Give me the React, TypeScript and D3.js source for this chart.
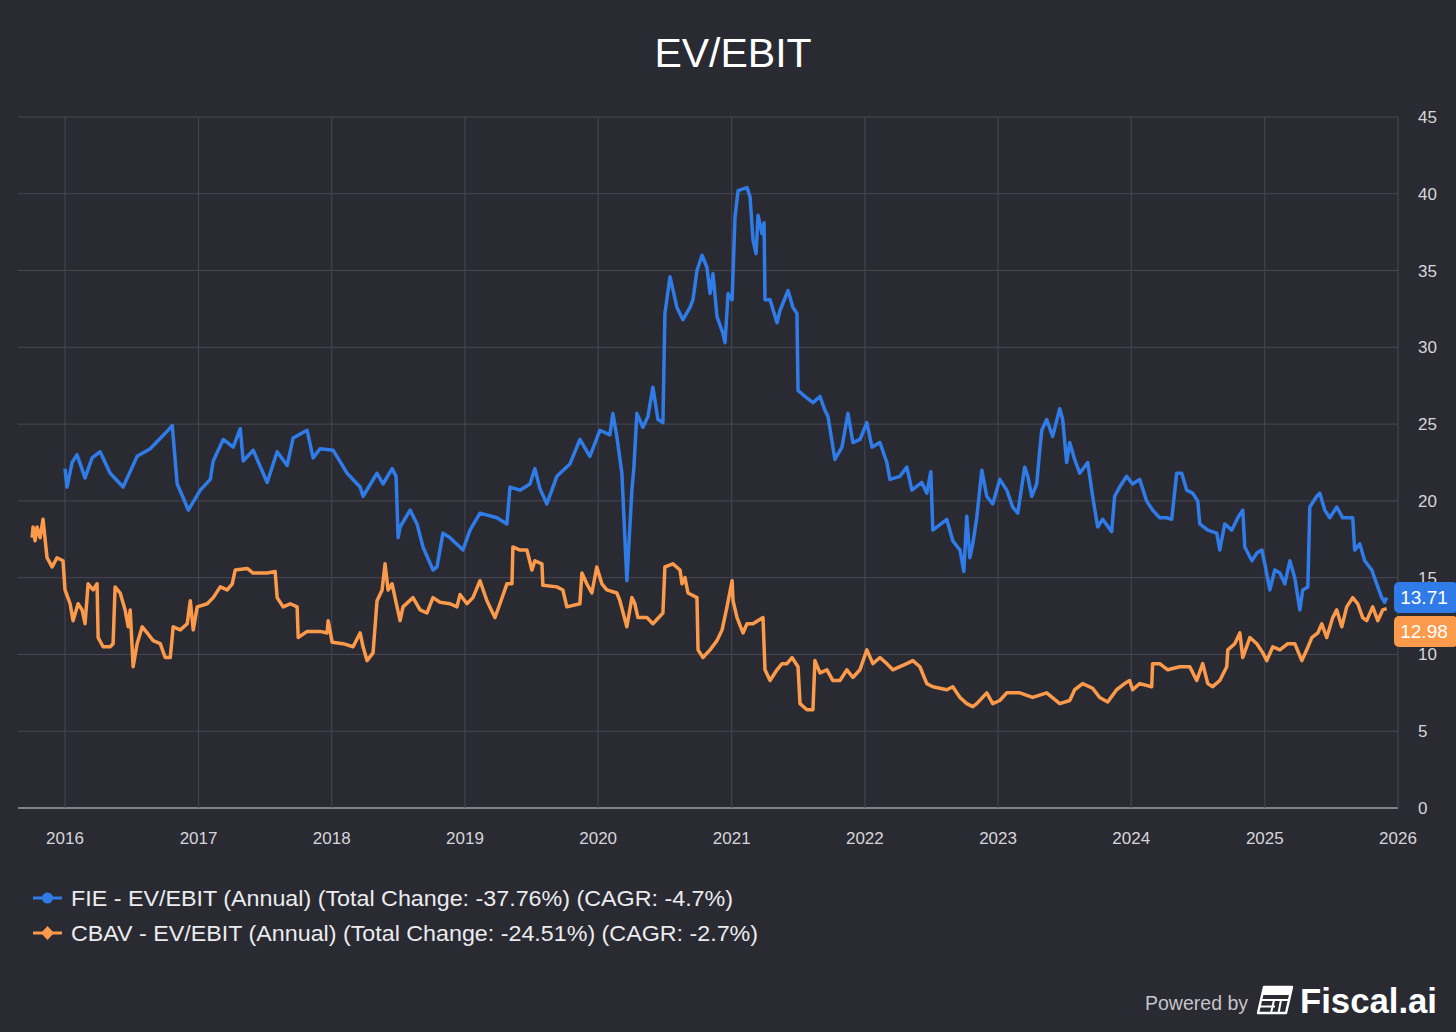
import React from "react";
import * as d3 from "d3";

// ---------- DATA ----------
const fieSeries: [number, number][] = [
  [2016.0, 22.1], [2016.015, 20.9], [2016.053, 22.5], [2016.09, 23.0], [2016.15, 21.5], [2016.203, 22.8],
  [2016.263, 23.2], [2016.338, 21.8], [2016.435, 20.9], [2016.54, 22.9], [2016.638, 23.4], [2016.75, 24.4],
  [2016.803, 24.9], [2016.84, 21.1], [2016.885, 20.2], [2016.923, 19.4], [2017.013, 20.7], [2017.088, 21.4],
  [2017.11, 22.6], [2017.185, 24.0], [2017.26, 23.5], [2017.313, 24.7], [2017.335, 22.6], [2017.41, 23.3],
  [2017.515, 21.2], [2017.59, 23.2], [2017.665, 22.3], [2017.71, 24.1], [2017.815, 24.6], [2017.86, 22.8],
  [2017.913, 23.4], [2018.01, 23.3], [2018.115, 21.8], [2018.213, 20.9], [2018.235, 20.3], [2018.34, 21.8],
  [2018.385, 21.1], [2018.453, 22.1], [2018.483, 21.6], [2018.498, 17.6], [2018.513, 18.3], [2018.588, 19.4],
  [2018.64, 18.5], [2018.685, 17.0], [2018.76, 15.5], [2018.79, 15.7], [2018.835, 17.9], [2018.888, 17.6],
  [2018.985, 16.8], [2019.038, 18.1], [2019.113, 19.2], [2019.24, 18.9], [2019.315, 18.5], [2019.338, 20.9],
  [2019.413, 20.7], [2019.488, 21.1], [2019.525, 22.1], [2019.563, 20.8], [2019.615, 19.8], [2019.69, 21.6],
  [2019.788, 22.4], [2019.863, 24.0], [2019.938, 22.9], [2020.013, 24.6], [2020.088, 24.3], [2020.11, 25.7],
  [2020.14, 24.2], [2020.178, 21.8], [2020.215, 14.8], [2020.253, 20.7], [2020.268, 22.2], [2020.29, 25.7],
  [2020.335, 24.8], [2020.373, 25.5], [2020.41, 27.4], [2020.448, 25.3], [2020.485, 25.1], [2020.5, 32.2],
  [2020.538, 34.6], [2020.59, 32.6], [2020.635, 31.8], [2020.688, 32.6], [2020.71, 33.1], [2020.74, 35.0],
  [2020.778, 36.0], [2020.815, 35.2], [2020.838, 33.5], [2020.86, 34.8], [2020.89, 32.0], [2020.935, 30.9],
  [2020.95, 30.3], [2020.973, 33.5], [2021.003, 33.1], [2021.025, 38.5], [2021.048, 40.2], [2021.115, 40.4],
  [2021.138, 39.8], [2021.16, 37.0], [2021.183, 36.1], [2021.198, 38.6], [2021.228, 37.4], [2021.243, 38.1],
  [2021.25, 33.1], [2021.288, 33.1], [2021.34, 31.6], [2021.363, 32.4], [2021.423, 33.7], [2021.46, 32.6],
  [2021.49, 32.2], [2021.498, 27.2], [2021.55, 26.8], [2021.61, 26.4], [2021.663, 26.8], [2021.7, 25.9],
  [2021.723, 25.5], [2021.775, 22.7], [2021.828, 23.5], [2021.873, 25.7], [2021.91, 23.8], [2021.963, 24.0],
  [2022.015, 25.1], [2022.053, 23.5], [2022.113, 23.8], [2022.165, 22.5], [2022.188, 21.4], [2022.263, 21.6],
  [2022.315, 22.2], [2022.353, 20.7], [2022.428, 21.2], [2022.465, 20.5], [2022.495, 21.9], [2022.51, 18.1],
  [2022.615, 18.8], [2022.66, 17.4], [2022.714, 16.8], [2022.743, 15.4], [2022.765, 19.0], [2022.788, 16.3],
  [2022.81, 17.2], [2022.84, 18.9], [2022.878, 22.0], [2022.915, 20.3], [2022.96, 19.8], [2023.013, 21.4],
  [2023.065, 20.7], [2023.11, 19.6], [2023.148, 19.2], [2023.2, 22.2], [2023.223, 21.6], [2023.253, 20.3],
  [2023.29, 21.1], [2023.313, 23.3], [2023.328, 24.6], [2023.365, 25.3], [2023.41, 24.2], [2023.463, 26.0],
  [2023.485, 25.3], [2023.515, 22.5], [2023.538, 23.8], [2023.575, 22.7], [2023.613, 21.8], [2023.673, 22.5],
  [2023.71, 20.3], [2023.748, 18.3], [2023.785, 18.8], [2023.853, 18.0], [2023.875, 20.3], [2023.913, 20.9],
  [2023.965, 21.6], [2024.01, 21.1], [2024.063, 21.4], [2024.115, 20.0], [2024.16, 19.4], [2024.213, 18.9],
  [2024.265, 18.9], [2024.303, 18.8], [2024.34, 21.8], [2024.378, 21.8], [2024.415, 20.7], [2024.46, 20.5],
  [2024.498, 20.0], [2024.513, 18.5], [2024.573, 18.1], [2024.64, 17.9], [2024.663, 16.8], [2024.7, 18.5],
  [2024.753, 18.1], [2024.798, 18.9], [2024.835, 19.4], [2024.85, 17.0], [2024.903, 16.1], [2024.94, 16.6],
  [2024.978, 16.8], [2025.0, 15.9], [2025.038, 14.2], [2025.075, 15.5], [2025.113, 15.3], [2025.15, 14.6],
  [2025.188, 16.1], [2025.225, 15.0], [2025.263, 12.9], [2025.285, 14.2], [2025.323, 14.4], [2025.338, 19.6],
  [2025.39, 20.3], [2025.413, 20.5], [2025.45, 19.4], [2025.488, 18.9], [2025.54, 19.6], [2025.585, 18.9],
  [2025.638, 18.9], [2025.66, 18.9], [2025.675, 16.8], [2025.713, 17.2], [2025.75, 16.1], [2025.803, 15.5],
  [2025.84, 14.6], [2025.878, 13.7], [2025.9, 13.4], [2025.915, 13.71],
];

const cbavSeries: [number, number][] = [
  [2015.753, 17.6], [2015.76, 18.3], [2015.775, 17.4], [2015.79, 18.3], [2015.813, 17.6], [2015.835, 18.8],
  [2015.865, 16.3], [2015.903, 15.7], [2015.94, 16.3], [2015.985, 16.1], [2016.0, 14.2], [2016.038, 13.3],
  [2016.06, 12.2], [2016.098, 13.3], [2016.128, 12.9], [2016.15, 12.0], [2016.173, 14.6], [2016.21, 14.2],
  [2016.24, 14.6], [2016.248, 11.1], [2016.285, 10.5], [2016.338, 10.5], [2016.36, 10.7], [2016.375, 14.4],
  [2016.413, 14.0], [2016.45, 12.9], [2016.473, 11.8], [2016.488, 12.9], [2016.51, 9.2], [2016.54, 10.7],
  [2016.578, 11.8], [2016.615, 11.4], [2016.66, 10.9], [2016.713, 10.7], [2016.75, 9.8], [2016.788, 9.8],
  [2016.81, 11.8], [2016.863, 11.6], [2016.915, 12.0], [2016.938, 13.5], [2016.96, 11.6], [2016.99, 13.1],
  [2017.065, 13.3], [2017.11, 13.7], [2017.163, 14.4], [2017.215, 14.2], [2017.253, 14.6], [2017.275, 15.5],
  [2017.365, 15.6], [2017.41, 15.3], [2017.515, 15.3], [2017.575, 15.4], [2017.59, 13.7], [2017.635, 13.1],
  [2017.688, 13.3], [2017.74, 13.1], [2017.748, 11.1], [2017.815, 11.5], [2017.913, 11.5], [2017.965, 11.4],
  [2017.973, 12.2], [2018.003, 10.8], [2018.085, 10.7], [2018.16, 10.5], [2018.213, 11.4], [2018.235, 10.5],
  [2018.265, 9.6], [2018.31, 10.1], [2018.34, 13.5], [2018.378, 14.2], [2018.4, 15.9], [2018.423, 14.2],
  [2018.453, 14.6], [2018.49, 13.1], [2018.513, 12.2], [2018.535, 13.1], [2018.61, 13.7], [2018.663, 12.9],
  [2018.715, 12.7], [2018.76, 13.7], [2018.813, 13.4], [2018.888, 13.3], [2018.94, 13.1], [2018.963, 13.9],
  [2019.015, 13.3], [2019.06, 13.7], [2019.113, 14.8], [2019.165, 13.5], [2019.225, 12.4], [2019.263, 13.3],
  [2019.315, 14.6], [2019.353, 14.6], [2019.36, 17.0], [2019.413, 16.8], [2019.465, 16.8], [2019.503, 15.5],
  [2019.525, 16.1], [2019.578, 15.9], [2019.585, 14.5], [2019.69, 14.4], [2019.735, 14.2], [2019.765, 13.1],
  [2019.863, 13.3], [2019.878, 15.3], [2019.915, 14.6], [2019.953, 14.0], [2019.99, 15.7], [2020.028, 14.6],
  [2020.065, 14.2], [2020.14, 14.0], [2020.163, 13.5], [2020.215, 11.8], [2020.253, 13.7], [2020.275, 13.3],
  [2020.298, 12.4], [2020.365, 12.4], [2020.41, 12.0], [2020.485, 12.7], [2020.5, 15.7], [2020.56, 15.9],
  [2020.613, 15.5], [2020.628, 14.6], [2020.65, 15.0], [2020.673, 14.0], [2020.74, 13.7], [2020.748, 10.3],
  [2020.785, 9.8], [2020.838, 10.3], [2020.89, 10.9], [2020.928, 11.6], [2020.965, 13.1], [2021.003, 14.8],
  [2021.01, 13.5], [2021.04, 12.4], [2021.085, 11.4], [2021.115, 12.0], [2021.16, 12.0], [2021.235, 12.4],
  [2021.25, 9.0], [2021.288, 8.3], [2021.34, 9.0], [2021.378, 9.4], [2021.415, 9.4], [2021.453, 9.8],
  [2021.498, 9.2], [2021.513, 6.8], [2021.565, 6.4], [2021.61, 6.4], [2021.625, 9.6], [2021.663, 8.8],
  [2021.715, 9.0], [2021.76, 8.3], [2021.813, 8.3], [2021.865, 9.0], [2021.91, 8.5], [2021.963, 9.0],
  [2022.015, 10.3], [2022.06, 9.4], [2022.113, 9.8], [2022.165, 9.4], [2022.21, 9.0], [2022.263, 9.2],
  [2022.315, 9.4], [2022.36, 9.6], [2022.413, 9.2], [2022.465, 8.1], [2022.51, 7.9], [2022.615, 7.7],
  [2022.66, 7.9], [2022.714, 7.2], [2022.765, 6.8], [2022.81, 6.6], [2022.84, 6.8], [2022.915, 7.5],
  [2022.96, 6.8], [2023.013, 7.0], [2023.065, 7.5], [2023.163, 7.5], [2023.26, 7.2], [2023.365, 7.5],
  [2023.463, 6.8], [2023.538, 7.0], [2023.575, 7.7], [2023.635, 8.1], [2023.71, 7.8], [2023.763, 7.2],
  [2023.823, 6.9], [2023.89, 7.7], [2023.95, 8.1], [2023.988, 8.3], [2024.01, 7.7], [2024.063, 8.1],
  [2024.153, 7.9], [2024.16, 9.4], [2024.213, 9.4], [2024.273, 9.0], [2024.363, 9.2], [2024.438, 9.2],
  [2024.49, 8.3], [2024.535, 9.4], [2024.573, 8.1], [2024.61, 7.9], [2024.663, 8.3], [2024.715, 9.2],
  [2024.723, 10.3], [2024.775, 10.7], [2024.813, 11.4], [2024.835, 9.8], [2024.888, 11.1], [2024.94, 10.7],
  [2024.985, 10.1], [2025.015, 9.6], [2025.06, 10.5], [2025.113, 10.3], [2025.173, 10.7], [2025.225, 10.7],
  [2025.278, 9.6], [2025.315, 10.3], [2025.353, 11.1], [2025.398, 11.4], [2025.428, 12.0], [2025.465, 11.1],
  [2025.51, 12.4], [2025.54, 12.9], [2025.578, 11.8], [2025.615, 13.1], [2025.66, 13.7], [2025.698, 13.3],
  [2025.735, 12.4], [2025.765, 12.2], [2025.81, 13.1], [2025.848, 12.2], [2025.885, 12.9], [2025.915, 12.98],
];

const yTicks = [0, 5, 10, 15, 20, 25, 30, 35, 40, 45];
const xTickYears = [2016, 2017, 2018, 2019, 2020, 2021, 2022, 2023, 2024, 2025, 2026];
const seriesLabels = [
  "FIE - EV/EBIT (Annual) (Total Change: -37.76%) (CAGR: -4.7%)",
  "CBAV - EV/EBIT (Annual) (Total Change: -24.51%) (CAGR: -2.7%)",
];
const legendWidths = [662, 687];
const lastValueLabels = ["13.71", "12.98"];
const titleText = "EV/EBIT";

// ---------- STYLE ----------
const BG = "#2a2a33";
const BLUE = "#2f7be8";
const ORANGE = "#fb9a4b";
const GRID = "#474852";
const FONT = "'Liberation Sans', Arial, Helvetica, sans-serif";

function toDate(y: number): Date {
  const yr = Math.floor(y);
  const s = new Date(yr, 0, 1).getTime();
  const e = new Date(yr + 1, 0, 1).getTime();
  return new Date(s + (y - yr) * (e - s));
}

export default function App() {
  const W = 1456;
  const H = 1032;
  const left = 18;
  const right = 1398;
  const top = 117;
  const bottom = 808;

  const x = d3.scaleTime().domain([toDate(2015.647), toDate(2026)]).range([left, right]);
  const y = d3.scaleLinear().domain([0, 45]).range([bottom, top]);

  const line = d3
    .line<[number, number]>()
    .x((d) => x(toDate(d[0])))
    .y((d) => y(d[1]))
    .curve(d3.curveLinear);

  const blueY = y(+lastValueLabels[0]);
  const badgeH = 31;
  const blueTop = blueY - badgeH / 2;
  const orangeTop = blueTop + badgeH + 3;

  const colors = [BLUE, ORANGE];

  return (
    <svg
      width={W}
      height={H}
      style={{ position: "absolute", left: 0, top: 0, background: BG, fontFamily: FONT }}
    >
      <rect x={0} y={0} width={W} height={H} fill={BG} />
      <text x={733} y={67} textAnchor="middle" fill="#ffffff" fontSize={41}>
        {titleText}
      </text>

      {/* horizontal grid */}
      {yTicks.map((t) => (
        <line
          key={"h" + t}
          x1={left}
          x2={right}
          y1={y(t)}
          y2={y(t)}
          stroke={t === 0 ? "#a0a0a6" : GRID}
          strokeWidth={t === 0 ? 1.5 : 1}
        />
      ))}
      {/* vertical grid */}
      {xTickYears.map((yr) => (
        <line
          key={"v" + yr}
          x1={x(toDate(yr))}
          x2={x(toDate(yr))}
          y1={top}
          y2={bottom}
          stroke={GRID}
          strokeWidth={1}
        />
      ))}

      {/* y labels */}
      {yTicks.map((t) => (
        <text key={"yl" + t} x={1418} y={y(t) + 6} fill="#d6d6da" fontSize={17}>
          {t}
        </text>
      ))}
      {/* x labels */}
      {xTickYears.map((yr) => (
        <text
          key={"xl" + yr}
          x={x(toDate(yr))}
          y={844}
          textAnchor="middle"
          fill="#d6d6da"
          fontSize={17}
        >
          {yr}
        </text>
      ))}

      {/* lines */}
      <path d={line(cbavSeries) || ""} fill="none" stroke={ORANGE} strokeWidth={3.5} strokeLinejoin="round" />
      <path d={line(fieSeries) || ""} fill="none" stroke={BLUE} strokeWidth={3.5} strokeLinejoin="round" />

      {/* last value badges */}
      <rect x={1394} y={blueTop} width={64} height={badgeH} rx={5} fill={BLUE} />
      <text x={1424} y={blueTop + 22} textAnchor="middle" fill="#ffffff" fontSize={19}>
        {lastValueLabels[0]}
      </text>
      <rect x={1394} y={orangeTop} width={64} height={badgeH} rx={5} fill={ORANGE} />
      <text x={1424} y={orangeTop + 22} textAnchor="middle" fill="#ffffff" fontSize={19}>
        {lastValueLabels[1]}
      </text>

      {/* legend */}
      {seriesLabels.map((lab, i) => {
        const ly = 898 + i * 35;
        return (
          <g key={"lg" + i}>
            <line x1={33} x2={62} y1={ly} y2={ly} stroke={colors[i]} strokeWidth={3} />
            {i === 0 ? (
              <circle cx={47.5} cy={ly} r={5.5} fill={colors[i]} />
            ) : (
              <path
                d={`M47.5,${ly - 7} L54,${ly} L47.5,${ly + 7} L41,${ly} Z`}
                fill={colors[i]}
              />
            )}
            <text
              x={71}
              y={ly + 8}
              fill="#ececef"
              fontSize={22}
              textLength={legendWidths[i]}
              lengthAdjust="spacingAndGlyphs"
            >
              {lab}
            </text>
          </g>
        );
      })}

      {/* footer */}
      <text x={1248} y={1010} textAnchor="end" fill="#c4c4c9" fontSize={19.5}>
        Powered by
      </text>
      <g transform="translate(1258,987)">
        <path d="M6,0 L34,0 L28,26 L0,26 Z" fill="none" stroke="#ffffff" strokeWidth={2.4} strokeLinejoin="round" />
        <path d="M6,0 L34,0 L32.3,8 L4.3,8 Z" fill="#ffffff" />
        <line x1={3.2} x2={31} y1={13} y2={13} stroke="#ffffff" strokeWidth={2} />
        <line x1={16} x2={13} y1={13} y2={26} stroke="#ffffff" strokeWidth={2} />
        <line x1={23} x2={20.5} y1={13} y2={26} stroke="#ffffff" strokeWidth={2} />
        <line x1={2} x2={17} y1={19.5} y2={19.5} stroke="#ffffff" strokeWidth={2} />
      </g>
      <text x={1300} y={1013} fill="#ffffff" fontSize={35} fontWeight="bold" textLength={137} lengthAdjust="spacingAndGlyphs">
        Fiscal.ai
      </text>
    </svg>
  );
}
